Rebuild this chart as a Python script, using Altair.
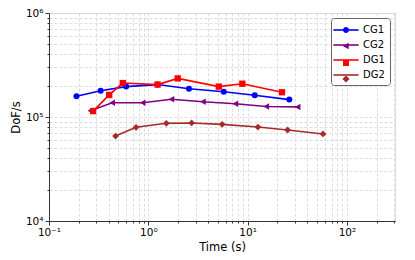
import altair as alt
import pandas as pd

series_names = ["CG1", "CG2", "DG1", "DG2"]
colors = ["#0000ff", "#800080", "#ff0000", "#a52a2a"]

cg1_time = [0.189, 0.331, 0.598, 1.24, 2.57, 5.75, 11.8, 26.3]
cg1_dofs = [158000, 179000, 196000, 205000, 187000, 175000, 162000, 147000]
cg2_time = [0.261, 0.433, 0.878, 1.71, 3.55, 7.53, 15.4, 31.9]
cg2_dofs = [115000, 137000, 137000, 148000, 140000, 134000, 126000, 125000]
dg1_time = [0.278, 0.404, 0.554, 1.24, 1.98, 5.13, 8.85, 22.2]
dg1_dofs = [114000, 163000, 212000, 205000, 235000, 196000, 209000, 173000]
dg2_time = [0.468, 0.753, 1.52, 2.73, 5.54, 12.7, 25.3, 57.5]
dg2_dofs = [65600, 79600, 87000, 87600, 85000, 80100, 75000, 68700]

x_major = [0.1, 1, 10, 100]
x_major_labels = ["10⁻¹", "10⁰", "10¹", "10²"]
y_major = [1e4, 1e5, 1e6]
y_major_labels = ["10⁴", "10⁵", "10⁶"]

rows = []
for name, t, d in zip(series_names, [cg1_time, cg2_time, dg1_time, dg2_time],
                      [cg1_dofs, cg2_dofs, dg1_dofs, dg2_dofs]):
    for i, (ti, di) in enumerate(zip(t, d)):
        rows.append({"series": name, "series_m": name, "time": ti, "dofs": di, "order": i})
df = pd.DataFrame(rows)

def all_ticks(majors, top):
    vals = []
    for m in majors:
        for k in range(1, 10):
            v = m * k
            if v <= top * 1.0001:
                vals.append(round(v, 10))
    return vals

x_vals = all_ticks(x_major, 305)
y_vals = all_ticks(y_major[:-1], 1e6) + [1e6]

def label_expr(majors, labels):
    parts = []
    for m, l in zip(majors, labels):
        parts.append(f"abs(datum.value - {m}) < {m}*1e-6 ? '{l}'")
    return " : ".join(parts) + " : ''"

major_test = "abs(log(datum.value)/log(10) - round(log(datum.value)/log(10))) < 1e-6"

def make_axis(title, vals, majors, labels):
    return alt.Axis(
        title=title, values=vals, labelExpr=label_expr(majors, labels),
        grid=True, gridColor="#cfcfcf", gridDash=[3, 2], gridWidth=0.7,
        tickColor="#333333", domainColor="#333333",
        tickSize={"condition": {"test": major_test, "value": 4}, "value": 2},
        labelColor="black", labelFont="DejaVu Sans", labelFontSize=10.5,
        titleFont="DejaVu Sans", titleFontSize=11.5, titleFontWeight="normal",
        titleColor="black", labelFlush=False, labelOverlap=False,
    )

x_enc = alt.X("time:Q", scale=alt.Scale(type="log", domain=[0.1, 305], nice=False),
              axis=make_axis("Time (s)", x_vals, x_major, x_major_labels))
y_enc = alt.Y("dofs:Q", scale=alt.Scale(type="log", domain=[1e4, 1e6], nice=False),
              axis=make_axis("DoF/s", y_vals, y_major, y_major_labels))

shapes = ["circle", "triangle-left", "square", "diamond"]
marker_sizes = [36, 42, 40, 46]

layers = []
for name, col, shp, sz in zip(series_names, colors, shapes, marker_sizes):
    sub = df[df["series"] == name]
    layers.append(alt.Chart(sub).mark_line(strokeWidth=1.6, color=col).encode(
        x=x_enc, y=y_enc, order="order:Q"))
    layers.append(alt.Chart(sub).mark_point(filled=True, opacity=1, color=col,
                                            shape=shp, size=sz).encode(x=x_enc, y=y_enc))

# legend symbols (unit = 6px): line part and marker part drawn by two stacked legends
line_path = "M-2.1,0L2.1,0"
marker_paths = [
    "M-0.5,0A0.5,0.5,0,1,1,0.5,0A0.5,0.5,0,1,1,-0.5,0Z",
    "M-0.55,0L0.45,-0.55L0.45,0.55Z",
    "M-0.5,-0.5L0.5,-0.5L0.5,0.5L-0.5,0.5Z",
    "M-0.6,0L0,-0.6L0.6,0L0,0.6Z",
]
common = dict(title=None, orient="none", legendX=282, legendY=5,
              symbolOpacity=1, symbolSize=144, symbolOffset=3,
              labelFont="DejaVu Sans", labelFontSize=10, labelColor="black",
              cornerRadius=3, padding=5, rowPadding=3, labelOffset=10)
legend_lines = alt.Chart(df).mark_point(filled=False, opacity=0).encode(
    x=x_enc, y=y_enc,
    color=alt.Color("series:N", scale=alt.Scale(domain=series_names, range=colors),
                    legend=alt.Legend(strokeColor="#666666", fillColor="white",
                                      symbolStrokeWidth=1.6, **common)),
    shape=alt.Shape("series:N", scale=alt.Scale(domain=series_names, range=[line_path] * 4),
                    legend=alt.Legend(strokeColor="#666666", fillColor="white",
                                      symbolStrokeWidth=1.6, **common)),
)
legend_marks = alt.Chart(df).mark_point(filled=True, opacity=0).encode(
    x=x_enc, y=y_enc,
    color=alt.Color("series_m:N", scale=alt.Scale(domain=series_names, range=colors),
                    legend=alt.Legend(labelExpr="' '", **common)),
    shape=alt.Shape("series_m:N", scale=alt.Scale(domain=series_names, range=marker_paths),
                    legend=alt.Legend(labelExpr="' '", **common)),
)
layers += [legend_lines, legend_marks]

chart = alt.layer(*layers).resolve_scale(
    color="independent", shape="independent"
).properties(
    width=346, height=208,
    autosize=alt.AutoSizeParams(type="none"),
    padding={"left": 41, "top": 5, "right": 12, "bottom": 36},
).configure_view(stroke="#333333", strokeWidth=1).configure(background="white")

chart.save("out.html", embed_options={"renderer": "svg", "actions": False})
